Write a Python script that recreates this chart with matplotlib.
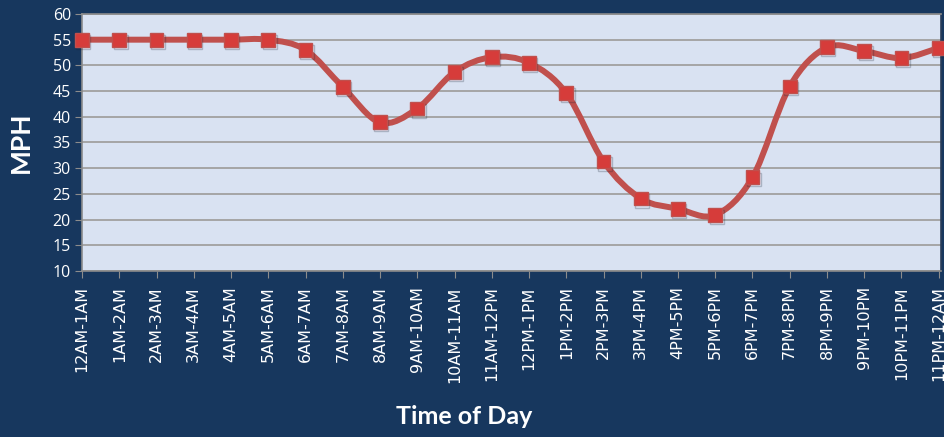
import matplotlib
matplotlib.use("Agg")
import matplotlib.pyplot as plt
import matplotlib.patheffects as pe
from matplotlib.path import Path
from matplotlib.patches import PathPatch
import numpy as np

periods = ["12AM-1AM", "1AM-2AM", "2AM-3AM", "3AM-4AM", "4AM-5AM", "5AM-6AM",
           "6AM-7AM", "7AM-8AM", "8AM-9AM", "9AM-10AM", "10AM-11AM", "11AM-12PM",
           "12PM-1PM", "1PM-2PM", "2PM-3PM", "3PM-4PM", "4PM-5PM", "5PM-6PM",
           "6PM-7PM", "7PM-8PM", "8PM-9PM", "9PM-10PM", "10PM-11PM", "11PM-12AM"]
mph = [55, 55, 55, 55, 55, 55,
       53, 45.8, 38.9, 41.6, 48.7, 51.6,
       50.5, 44.6, 31.3, 24.1, 22.1, 20.9,
       28.2, 45.9, 53.5, 52.8, 51.4, 53.4]

NAVY = "#17375E"
PLOT_BG = "#D9E2F2"
RED_LINE = "#C0504D"
RED_MARK = "#D63C3A"
GRID = "#A5A5A5"


def smooth_path(x, y):
    # Excel-style smoothed line: cubic Bezier segments (Catmull-Rom, tension 1/6)
    n = len(x)
    verts = [(x[0], y[0])]
    codes = [Path.MOVETO]
    for i in range(n - 1):
        x0, y0 = (x[i - 1], y[i - 1]) if i > 0 else (x[i], y[i])
        x3, y3 = (x[i + 2], y[i + 2]) if i + 2 < n else (x[i + 1], y[i + 1])
        c1 = (x[i] + (x[i + 1] - x0) / 6, y[i] + (y[i + 1] - y0) / 6)
        c2 = (x[i + 1] - (x3 - x[i]) / 6, y[i + 1] - (y3 - y[i]) / 6)
        verts += [c1, c2, (x[i + 1], y[i + 1])]
        codes += [Path.CURVE4] * 3
    return Path(verts, codes)


fig = plt.figure(figsize=(9.44, 4.37), dpi=100, facecolor=NAVY)
ax = fig.add_axes([0.0869, 0.380, 0.9095, 0.588])
ax.set_facecolor(PLOT_BG)

xs = np.arange(len(periods))
curve = PathPatch(smooth_path(xs, mph), facecolor="none", edgecolor=RED_LINE,
                  lw=4.3, capstyle="round", joinstyle="round", zorder=3)
ax.add_patch(curve)
ax.plot(xs, mph, linestyle="none", marker="s", markersize=10,
        markerfacecolor=RED_MARK, markeredgecolor=RED_LINE, markeredgewidth=1,
        zorder=4, clip_on=False,
        path_effects=[pe.SimpleLineShadow(offset=(1, -1.5), shadow_color="#1a2333", alpha=0.25),
                      pe.Normal()])

ax.set_ylim(10, 60)
ax.set_xlim(0, len(periods) - 1 + 0.05)
ax.set_yticks(range(10, 61, 5))
ax.set_xticks(xs)
ax.set_xticklabels(periods, rotation=90, fontsize=11.5, color="white", family="DejaVu Sans")
ax.tick_params(axis="y", labelsize=11.5, colors="white", length=5, color="#8C8C8C", pad=3)
ax.tick_params(axis="x", length=5, color="#8C8C8C", pad=6)
for lbl in ax.get_yticklabels():
    lbl.set_family("Open Sans")
ax.yaxis.grid(True, color=GRID, lw=1.4)
ax.set_axisbelow(True)

for side in ["left", "bottom", "top"]:
    ax.spines[side].set_color("#8C8C8C")
    ax.spines[side].set_linewidth(1.2)
ax.spines["right"].set_color("#2B3E5A")
ax.spines["right"].set_linewidth(1.2)

ax.set_ylabel("MPH", fontsize=19, fontweight="bold", color="white", family="Lato", labelpad=14)
fig.text(0.492, 0.048, "Time of Day", ha="center", va="center", fontsize=18,
         fontweight="bold", color="white", family="Lato")

fig.savefig("out.png", dpi=100, facecolor=NAVY)
